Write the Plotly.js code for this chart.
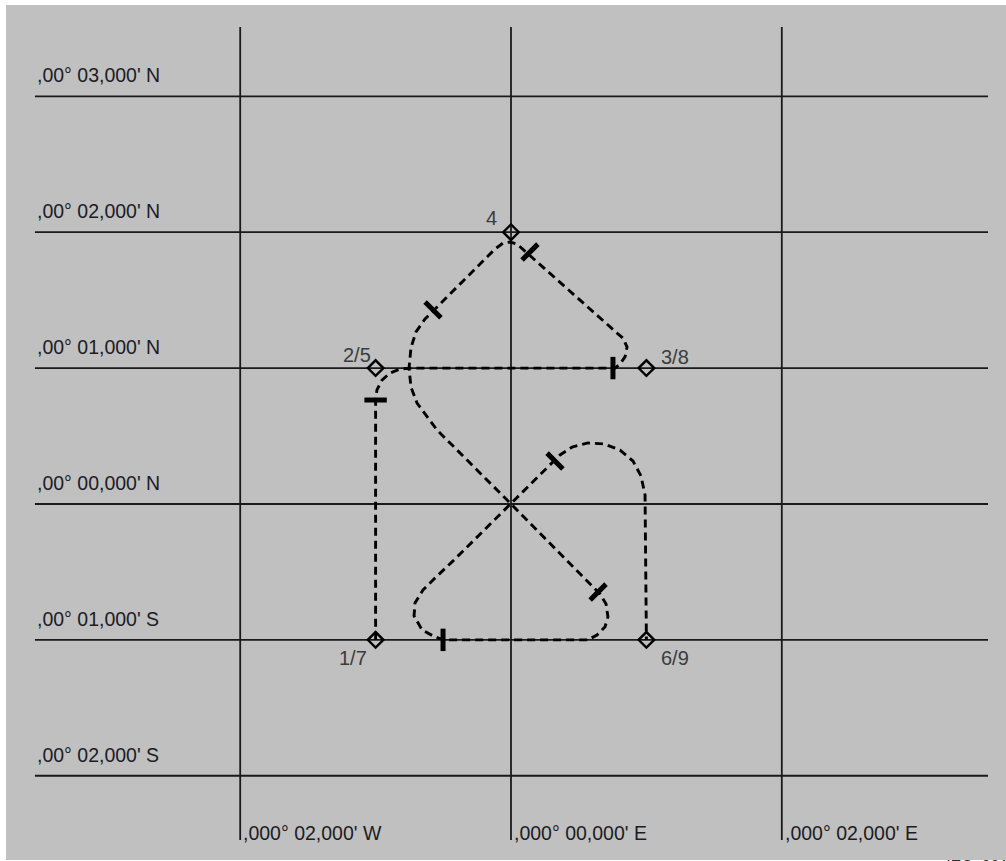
<!DOCTYPE html>
<html>
<head>
<meta charset="utf-8">
<script src="https://cdn.plot.ly/plotly-3.0.1.min.js"></script>
<style>
  html, body { margin: 0; padding: 0; background: #ffffff; }
  #chart { width: 1006px; height: 861px; }
</style>
</head>
<body>
<div id="chart"></div>
<script>
// ---- Data (longitude / latitude in arc-minutes from 0°00,000') ----
const latTicks = [-2, -1, 0, 1, 2, 3];
const latLabels = [",00° 02,000' S", ",00° 01,000' S", ",00° 00,000' N", ",00° 01,000' N", ",00° 02,000' N", ",00° 03,000' N"];
const lonTicks = [-2, 0, 2];
const lonLabels = [",000° 02,000' W", ",000° 00,000' E", ",000° 02,000' E"];

// waypoints
const wpLabels = ["1/7", "2/5", "3/8", "4", "6/9"];
const wpLon = [-1, -1, 1, 0, 1];
const wpLat = [-1, 1, 1, 2, -1];

// flown track
const pathLon = [-1.0, -1.0, -0.990, -0.953, -0.894, -0.820, -0.746, 0.768, 0.805, 0.842, 0.857, 0.827, 0.783,
  0.089, 0.044, -0.007, -0.059, -0.118, -0.635, -0.702, -0.739, -0.753, -0.739, -0.694, -0.620, -0.547,
  0.0, 0.657, 0.702, 0.716, 0.694, 0.635, 0.569, -0.502, -0.576, -0.657, -0.716, -0.709, -0.650, -0.576, -0.428,
  0.0, 0.362, 0.451, 0.569, 0.687, 0.805, 0.901, 0.960, 0.990, 1.0];
const pathLat = [-1.0, 0.765, 0.839, 0.912, 0.964, 0.993, 1.0, 1.0, 1.030, 1.082, 1.155, 1.221, 1.258,
  1.876, 1.913, 1.928, 1.920, 1.876, 1.361, 1.266, 1.148, 1.0, 0.861, 0.743, 0.640, 0.545,
  0.0, -0.662, -0.736, -0.831, -0.905, -0.964, -1.0, -1.0, -0.971, -0.927, -0.824, -0.728, -0.633, -0.559, -0.419,
  0.0, 0.361, 0.419, 0.449, 0.442, 0.397, 0.316, 0.206, 0.066, -1.0];

// tick bars across the track
const markLon = [-1.0, 0.753, 0.140, -0.576, 0.643, -0.502, 0.325];
const markLat = [0.765, 1.0, 1.854, 1.428, -0.648, -1.0, 0.316];
const markAngle = [90, 0, 45, -45, 45, 0, -45];

// ---- Layout helpers ----
const gridColor = '#1a1a1a';
const shapes = [];
latTicks.forEach(v => shapes.push({type: 'line', xref: 'x', yref: 'y', x0: -3.516, x1: 3.523, y0: v, y1: v,
  line: {color: gridColor, width: 1.8}, layer: 'below'}));
lonTicks.forEach(v => shapes.push({type: 'line', xref: 'x', yref: 'y', x0: v, x1: v, y0: -2.472, y1: 3.510,
  line: {color: gridColor, width: 1.8}, layer: 'below'}));

const axFont = {family: 'Liberation Sans, Arial, sans-serif', size: 19.5, color: '#1c1c24'};
const ptFont = {family: 'Liberation Sans, Arial, sans-serif', size: 20, color: '#3c3c3c'};
const annotations = [];
latTicks.forEach((v, i) => annotations.push({xref: 'x', yref: 'y', x: -3.513, y: v, text: latLabels[i],
  showarrow: false, xanchor: 'left', yanchor: 'middle', yshift: 21, font: axFont}));
lonTicks.forEach((v, i) => annotations.push({xref: 'x', yref: 'y', x: v, y: -2.421, text: lonLabels[i],
  showarrow: false, xanchor: 'left', yanchor: 'middle', xshift: 1, font: axFont}));

const labelPos = {
  "1/7": {xanchor: 'right', xshift: -7, yshift: -18},
  "2/5": {xanchor: 'right', xshift: -3, yshift: 13},
  "3/8": {xanchor: 'left', xshift: 13, yshift: 11},
  "4":   {xanchor: 'right', xshift: -12, yshift: 14},
  "6/9": {xanchor: 'left', xshift: 13, yshift: -18}
};
wpLabels.forEach((t, i) => annotations.push(Object.assign({xref: 'x', yref: 'y', x: wpLon[i], y: wpLat[i], text: t,
  showarrow: false, yanchor: 'middle', font: ptFont}, labelPos[t])));

annotations.push({xref: 'paper', yref: 'paper', x: 0.937, y: -0.0, yanchor: 'top', xanchor: 'left',
  yshift: 4, text: '<i>IEC  001</i>', showarrow: false,
  font: {family: 'Liberation Sans, Arial, sans-serif', size: 16, color: '#333333'}});

const traces = [
  {x: pathLon, y: pathLat, mode: 'lines', type: 'scatter', hoverinfo: 'skip',
   line: {color: '#000000', width: 2.9, dash: '8px,5px'}},
  {x: markLon, y: markLat, mode: 'markers', type: 'scatter', hoverinfo: 'skip',
   marker: {symbol: 'line-ns', size: 16, angle: markAngle, color: '#000000', line: {color: '#000000', width: 5}}},
  {x: wpLon, y: wpLat, mode: 'markers', type: 'scatter', hoverinfo: 'skip',
   marker: {symbol: 'diamond-open', size: 12, color: '#000000', line: {color: '#000000', width: 2.4}}}
];

const layout = {
  width: 1006, height: 861,
  margin: {l: 6, r: 0, t: 5, b: 1, pad: 0},
  paper_bgcolor: '#ffffff',
  plot_bgcolor: '#c0c0c0',
  showlegend: false,
  xaxis: {range: [-3.7297, 3.6558], showgrid: false, zeroline: false, showticklabels: false, showline: false,
          ticks: '', fixedrange: true, automargin: false},
  yaxis: {range: [-2.620, 3.672], showgrid: false, zeroline: false, showticklabels: false, showline: false,
          ticks: '', fixedrange: true, automargin: false},
  shapes: shapes,
  annotations: annotations
};

Plotly.newPlot('chart', traces, layout, {displayModeBar: false, staticPlot: true});
</script>
</body>
</html>
